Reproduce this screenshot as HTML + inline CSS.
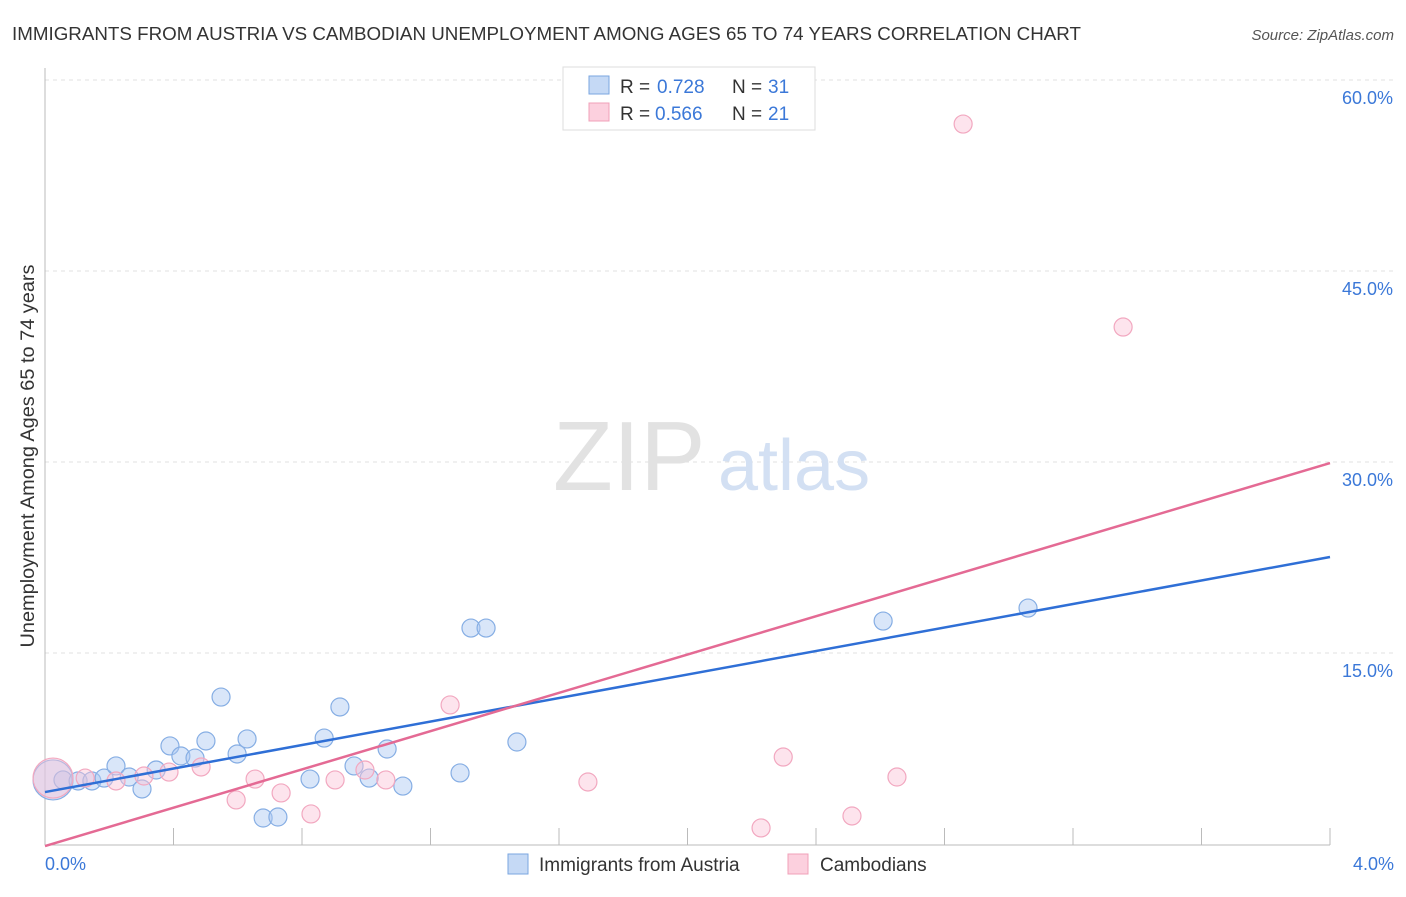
<!DOCTYPE html>
<html><head><meta charset="utf-8"><style>
body{margin:0;background:#fff;font-family:"Liberation Sans",sans-serif}
svg text{font-family:"Liberation Sans",sans-serif}
</style></head><body>
<svg id="chart" width="1406" height="892" xmlns="http://www.w3.org/2000/svg">
<text x="12" y="40" font-size="18" fill="#333" textLength="1069" lengthAdjust="spacingAndGlyphs">IMMIGRANTS FROM AUSTRIA VS CAMBODIAN UNEMPLOYMENT AMONG AGES 65 TO 74 YEARS CORRELATION CHART</text>
<text x="1394" y="40" font-size="15" fill="#555" font-style="italic" text-anchor="end">Source: ZipAtlas.com</text>
<g id="grid"></g>
<text x="553" y="490" font-size="98" fill="#e2e2e2" font-family="Liberation Serif">ZIP</text>
<text x="718" y="490" font-size="72" fill="#d3e0f3">atlas</text>
<line x1="45" y1="68" x2="45" y2="845" stroke="#bbb"/>
<line x1="45" y1="845" x2="1330" y2="845" stroke="#bbb"/>
<g id="ticks"></g>
<g id="marks"></g>
<g id="trends"></g>
<text x="34" y="456" font-size="19" fill="#333" text-anchor="middle" textLength="383" lengthAdjust="spacingAndGlyphs" transform="rotate(-90 34 456)">Unemployment Among Ages 65 to 74 years</text>
<text x="45" y="870" font-size="18" fill="#3b78d8">0.0%</text>
<text x="1394" y="870" font-size="18" fill="#3b78d8" text-anchor="end">4.0%</text>
<g>
<rect x="563" y="67" width="252" height="63" fill="#fff" stroke="#ddd"/>
<rect x="589" y="76" width="20" height="18" fill="#c5d9f5" stroke="#7aa6e0"/>
<rect x="589" y="103" width="20" height="18" fill="#fcd0de" stroke="#f0a0b8"/>
<text x="620" y="93" font-size="19" fill="#333">R =</text><text x="657" y="93" font-size="19" fill="#3b78d8">0.728</text>
<text x="732" y="93" font-size="19" fill="#333">N =</text><text x="768" y="93" font-size="19" fill="#3b78d8">31</text>
<text x="620" y="120" font-size="19" fill="#333">R =</text><text x="655" y="120" font-size="19" fill="#3b78d8">0.566</text>
<text x="732" y="120" font-size="19" fill="#333">N =</text><text x="768" y="120" font-size="19" fill="#3b78d8">21</text>
</g>
<g>
<rect x="508" y="854" width="20" height="20" fill="#c5d9f5" stroke="#7aa6e0"/>
<text x="539" y="871" font-size="19" fill="#333">Immigrants from Austria</text>
<rect x="788" y="854" width="20" height="20" fill="#fcd0de" stroke="#f0a0b8"/>
<text x="820" y="871" font-size="19" fill="#333">Cambodians</text>
</g>
</svg>
<script>
const yTicks=[15,30,45,60];
const yTickLabels=["15.0%","30.0%","45.0%","60.0%"];
const xTicks=[0.4,0.8,1.2,1.6,2.0,2.4,2.8,3.2,3.6,4.0];
const blueX=[0.025,0.056,0.103,0.146,0.184,0.221,0.262,0.302,0.346,0.389,0.423,0.467,0.501,0.548,0.598,0.629,0.679,0.725,0.825,0.869,0.918,0.962,1.009,1.065,1.114,1.292,1.326,1.373,1.469,2.609,3.060];
const blueY=[5.03,5.03,4.95,4.95,5.18,6.13,5.26,4.32,5.81,7.70,6.91,6.75,8.09,11.54,7.07,8.25,2.04,2.12,5.10,8.32,10.76,6.13,5.18,7.46,4.55,5.58,16.96,16.96,8.01,17.51,18.53];
const pinkX=[0.025,0.125,0.221,0.308,0.386,0.486,0.595,0.654,0.735,0.828,0.903,0.996,1.061,1.261,1.690,2.229,2.298,2.512,2.652,2.858,3.356];
const pinkY=[5.18,5.18,4.95,5.34,5.65,6.05,3.46,5.10,4.01,2.36,5.03,5.81,5.03,10.92,4.87,1.26,6.83,2.20,5.26,56.54,40.60];
const blueTrend=[4.08,22.54];
const pinkTrend=[-0.16,29.92];
const NS="http://www.w3.org/2000/svg";
const sx=v=>45+v/4*1285;
const sy=v=>844-v/15*191;
function mk(tag,attrs,parent){const e=document.createElementNS(NS,tag);for(const k in attrs)e.setAttribute(k,attrs[k]);parent.appendChild(e);return e;}
const grid=document.getElementById('grid');
yTicks.forEach((t,i)=>{
 const l=mk('line',{x1:45,x2:1394,y1:sy(t),y2:sy(t),stroke:'#e0e0e0','stroke-dasharray':'4,4'},grid);
 
 
 const tx=mk('text',{x:1393,y:sy(t)+24,'font-size':18,fill:'#3b78d8','text-anchor':'end'},grid);
 tx.textContent=yTickLabels[i];
 
 
});
const ticks=document.getElementById('ticks');
xTicks.forEach(t=>{
 const l=mk('line',{x1:sx(t),x2:sx(t),y1:828,y2:845,stroke:'#bbb'},ticks);
 
 
});
const marks=document.getElementById('marks');
function pts(xs,ys,fill,stroke,name){
 xs.forEach((x,i)=>{
  const r=i===0?20:9;
  const c=mk('circle',{cx:sx(x),cy:sy(ys[i]),r:r,fill:fill,stroke:stroke,'stroke-width':1.2},marks);
  
  
 });
}
pts(blueX,blueY,'rgba(170,200,242,0.45)','#86aee4','point-austria');
pts(pinkX,pinkY,'rgba(250,195,214,0.45)','#f2a8c0','point-cambodians');
const trends=document.getElementById('trends');
const bl=mk('line',{x1:sx(0),y1:sy(blueTrend[0]),x2:sx(4),y2:sy(blueTrend[1]),stroke:'#2f6fd6','stroke-width':2.5},trends);


const pl=mk('line',{x1:sx(0),y1:sy(pinkTrend[0]),x2:sx(4),y2:sy(pinkTrend[1]),stroke:'#e46a94','stroke-width':2.5},trends);


</script>
</body></html>
